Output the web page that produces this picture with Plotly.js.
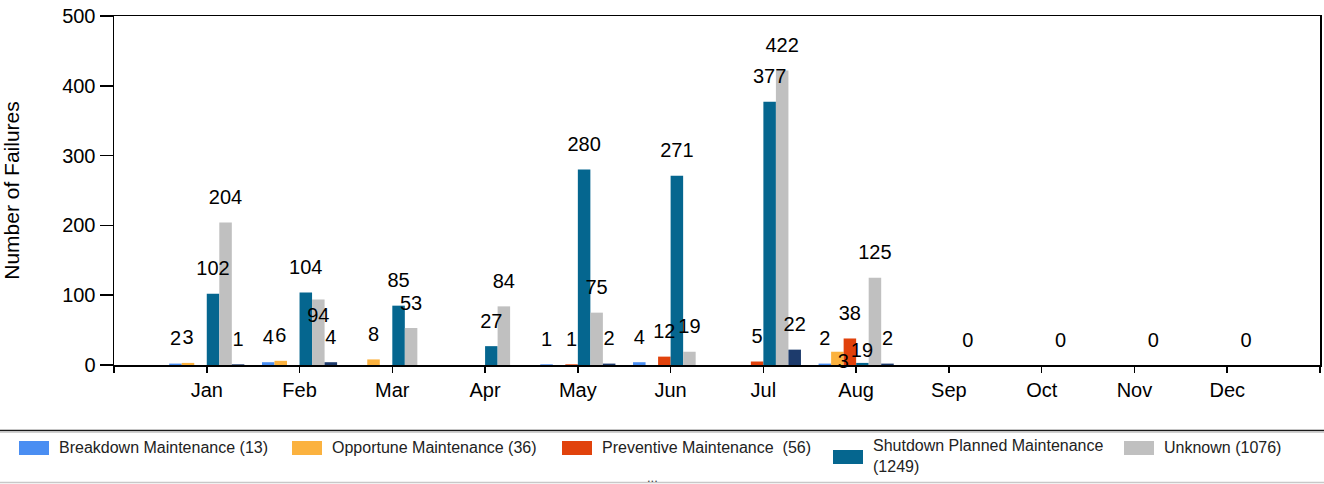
<!DOCTYPE html>
<html>
<head>
<meta charset="utf-8">
<script src="https://cdn.plot.ly/plotly-3.0.1.min.js"></script>
<style>html,body{margin:0;padding:0;background:#fff;}#chart{width:1324px;height:484px;}</style>
</head>
<body>
<div id="chart"></div>
<script>
var months = ['Jan','Feb','Mar','Apr','May','Jun','Jul','Aug','Sep','Oct','Nov','Dec'];
var breakdown  = [2, 4, null, null, 1, 4, null, 2, null, null, null, null];
var opportune  = [3, 6, 8, null, null, null, null, 19, null, null, null, null];
var preventive = [null, null, null, null, 1, 12, 5, 38, null, null, null, null];
var shutdown   = [102, 104, 85, 27, 280, 271, 377, 3, null, null, null, null];
var unknown    = [204, 94, 53, 84, 75, 19, 422, 125, 0, 0, 0, 0];
var corrective = [1, 4, null, null, 2, null, 22, 2, null, null, null, null];

var seriesNames = ['Breakdown Maintenance (13)', 'Opportune Maintenance (36)', 'Preventive Maintenance  (56)',
                   'Shutdown Planned Maintenance<br>(1249)', 'Unknown (1076)', 'Corrective Maintenance (31)'];
var seriesData = [breakdown, opportune, preventive, shutdown, unknown, corrective];
var colors = ['#4a8ef2', '#fbb23f', '#e1420c', '#05668f', '#c0c0c0', '#1d3b6c'];

var xIdx = months.map(function(m, i){ return i; });
var FONT = 'Arial, "Liberation Sans", sans-serif';

// label placement tweaks (series index -> month index -> [position, pad]), as the reference moves colliding labels
var labelPos = {1: {7: ['middle right', 20]}, 3: {7: ['middle left', 20]}, 4: {1: ['bottom center', 11]}};
function tweak(k, i){ return labelPos[k] && labelPos[k][i]; }

var traces = [];
seriesData.forEach(function(vals, k){
  traces.push({
    type: 'bar', x: xIdx, y: vals, name: seriesNames[k],
    marker: {color: colors[k]}, showlegend: false, hoverinfo: 'y+name'
  });
});
seriesData.forEach(function(vals, k){
  traces.push({
    type: 'scatter', mode: 'markers+text', x: xIdx, y: vals,
    text: vals.map(function(v){ return v === null ? '' : String(v); }),
    textposition: vals.map(function(v, i){ var t = tweak(k, i); return t ? t[0] : 'top center'; }),
    textfont: {family: FONT, size: 20, color: '#000'},
    marker: {size: vals.map(function(v, i){ var t = tweak(k, i); return t ? t[1] : 20; }), opacity: 0, color: colors[k]},
    showlegend: false, hoverinfo: 'skip', cliponaxis: false
  });
});

// plot area geometry (pixels) for the custom legend
var L = 114, R = 1320, T = 16, B = 365;
function px(x){ return (x - L) / (R - L); }
function py(y){ return (B - y) / (B - T); }

var legendItems = [
  {x: 19,   text: seriesNames[0], c: colors[0], y0: 441, y1: 455, ty: 447},
  {x: 292,  text: seriesNames[1], c: colors[1], y0: 441, y1: 455, ty: 447},
  {x: 562,  text: seriesNames[2], c: colors[2], y0: 441, y1: 455, ty: 447},
  {x: 833,  text: seriesNames[3], c: colors[3], y0: 450, y1: 464, ty: 456},
  {x: 1124, text: seriesNames[4], c: colors[4], y0: 441, y1: 455, ty: 447}
];
var shapes = [
  {type: 'line', xref: 'paper', yref: 'paper', x0: px(0), x1: px(1324), y0: py(430.5), y1: py(430.5), line: {color: '#1a1a1a', width: 1.6}},
  {type: 'line', xref: 'paper', yref: 'paper', x0: px(0), x1: px(1324), y0: py(432.5), y1: py(432.5), line: {color: '#d0d0d0', width: 1}},
  {type: 'line', xref: 'paper', yref: 'paper', x0: px(0), x1: px(1324), y0: py(482.5), y1: py(482.5), line: {color: '#c8c8c8', width: 1.5}}
];
var annotations = [];
legendItems.forEach(function(it){
  shapes.push({type: 'rect', xref: 'paper', yref: 'paper', x0: px(it.x), x1: px(it.x + 30), y0: py(it.y1), y1: py(it.y0),
               fillcolor: it.c, line: {width: 0}});
  annotations.push({xref: 'paper', yref: 'paper', x: px(it.x + 38), y: py(it.ty), xanchor: 'left', yanchor: 'middle',
                    text: it.text, showarrow: false, align: 'left', font: {family: FONT, size: 16, color: '#222'}});
});
annotations.push({xref: 'paper', yref: 'paper', x: px(652), y: py(477), xanchor: 'center', yanchor: 'middle',
                  text: '...', showarrow: false, font: {family: FONT, size: 13, color: '#444'}});

var layout = {
  width: 1324, height: 484,
  margin: {l: L, r: 1324 - R, t: T, b: 484 - B, pad: 0},
  paper_bgcolor: '#fff', plot_bgcolor: '#fff',
  font: {family: FONT, size: 20, color: '#000'},
  barmode: 'group', bargap: 0.19, bargroupgap: 0,
  scattermode: 'group', scattergap: 0.19,
  showlegend: false,
  xaxis: {
    range: [-1, 12], tickmode: 'array',
    tickvals: [-1].concat(xIdx).concat([12]),
    ticktext: [''].concat(months).concat(['']),
    ticks: 'outside', ticklen: 6, tickcolor: '#000', tickwidth: 1.5,
    showline: true, linecolor: '#000', linewidth: 1.5, mirror: true,
    showgrid: false, zeroline: false, fixedrange: true,
    tickfont: {family: FONT, size: 20, color: '#000'}
  },
  yaxis: {
    range: [0, 500], dtick: 100, tick0: 0,
    ticks: 'outside', ticklen: 13, tickcolor: '#000', tickwidth: 1.5,
    showline: true, linecolor: '#000', linewidth: 1.5, mirror: true,
    showgrid: false, zeroline: false, fixedrange: true,
    tickfont: {family: FONT, size: 20, color: '#000'},
    title: {text: 'Number of Failures', standoff: 41, font: {family: FONT, size: 21, color: '#000'}}
  },
  shapes: shapes,
  annotations: annotations
};

Plotly.newPlot('chart', traces, layout, {displayModeBar: false, staticPlot: true});
</script>
</body>
</html>
